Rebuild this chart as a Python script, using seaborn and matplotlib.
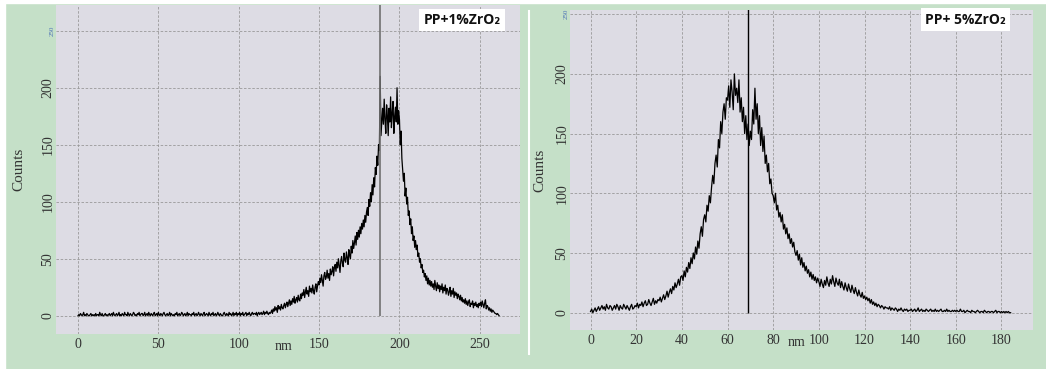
import numpy as np
import pandas as pd
import matplotlib
matplotlib.use("Agg")
import matplotlib.pyplot as plt
from matplotlib.patches import Rectangle
from matplotlib.lines import Line2D
import seaborn as sns

# ---- data (counts per 0.5 nm bin) ----
left_nm = np.arange(0, 262.5, 0.5)
left_counts = [
    0, 1, 0, 2, 1, 0, 1, 3, 0, 1, 0, 2, 1, 0, 0, 1, 2, 0, 1, 0,
    1, 0, 2, 0, 1, 1, 0, 3, 1, 0, 2, 0, 0, 1, 2, 0, 1, 0, 1, 2,
    0, 1, 2, 0, 3, 1, 0, 1, 2, 0, 1, 3, 0, 1, 0, 2, 1, 0, 3, 1,
    1, 0, 3, 1, 0, 2, 1, 0, 1, 3, 2, 0, 1, 0, 2, 1, 3, 0, 1, 2,
    2, 0, 1, 3, 0, 1, 2, 0, 3, 1, 0, 2, 1, 0, 2, 3, 0, 1, 2, 0,
    3, 1, 0, 2, 1, 0, 2, 3, 1, 0, 1, 2, 0, 1, 3, 0, 2, 1, 0, 1,
    0, 2, 1, 3, 0, 1, 2, 0, 1, 3, 2, 0, 1, 2, 0, 1, 3, 0, 2, 1,
    1, 0, 2, 1, 3, 0, 1, 2, 0, 1, 3, 1, 0, 2, 1, 0, 2, 3, 0, 1,
    2, 1, 0, 3, 1, 0, 2, 1, 3, 0, 1, 2, 0, 1, 3, 1, 0, 2, 1, 0,
    0, 2, 3, 1, 0, 2, 1, 0, 3, 1, 2, 0, 1, 3, 0, 2, 1, 3, 0, 2,
    1, 3, 0, 2, 1, 3, 0, 1, 2, 3, 0, 2, 1, 3, 1, 0, 2, 3, 1, 2,
    2, 1, 3, 0, 2, 3, 1, 2, 3, 1, 2, 4, 1, 3, 2, 4, 2, 1, 3, 2,
    3, 5, 2, 6, 4, 8, 5, 7, 3, 9, 6, 8, 5, 10, 7, 6, 9, 11, 7, 10,
    12, 8, 11, 14, 9, 13, 10, 15, 12, 17, 11, 14, 16, 12, 18, 14, 13, 19, 15, 20,
    18, 23, 16, 21, 25, 19, 22, 17, 26, 21, 24, 20, 27, 22, 19, 25, 28, 21, 26, 30,
    27, 33, 29, 36, 31, 26, 35, 38, 32, 34, 40, 33, 37, 31, 41, 36, 39, 43, 35, 42,
    45, 39, 47, 42, 50, 44, 38, 48, 52, 46, 43, 55, 49, 47, 56, 51, 45, 58, 53, 50,
    61, 55, 66, 59, 64, 70, 62, 73, 67, 75, 69, 78, 72, 81, 76, 84, 78, 88, 82, 91,
    95, 88, 102, 96, 108, 100, 115, 106, 121, 113, 130, 124, 140, 132, 150, 145, 210, 158, 170, 182,
    168, 190, 172, 160, 185, 175, 158, 182, 170, 192, 165, 178, 188, 160, 175, 183, 170, 200, 168, 180,
    172, 150, 162, 138, 128, 118, 125, 105, 112, 98, 104, 88, 92, 80, 85, 72, 78, 66, 70, 60,
    66, 58, 62, 52, 55, 47, 50, 42, 45, 38, 40, 34, 37, 31, 35, 28, 33, 27, 31, 26,
    30, 25, 28, 23, 31, 26, 22, 29, 24, 27, 21, 26, 23, 28, 20, 25, 22, 27, 19, 24,
    23, 18, 21, 25, 17, 22, 19, 24, 16, 21, 18, 20, 15, 19, 17, 14, 18, 13, 16, 12,
    14, 11, 15, 10, 13, 9, 12, 14, 8, 11, 10, 13, 7, 11, 9, 12, 8, 10, 7, 11,
    9, 12, 8, 13, 10, 7, 11, 14, 6, 9, 8, 5, 7, 4, 6, 3, 5, 4, 3, 2,
    2, 1, 2, 1, 0,
]
left_spike_nm = 188
left_spike_top = 285

right_nm = np.arange(0, 184.5, 0.5)
right_counts = [
    1, 3, 0, 2, 4, 1, 3, 5, 2, 4, 6, 3, 5, 2, 7, 4, 3, 6, 5, 2,
    4, 6, 3, 7, 5, 2, 6, 4, 3, 7, 5, 3, 6, 4, 2, 5, 7, 3, 4, 6,
    5, 8, 4, 7, 6, 9, 5, 8, 10, 6, 7, 11, 8, 6, 9, 12, 7, 10, 8, 11,
    10, 13, 9, 12, 15, 11, 14, 18, 13, 17, 20, 16, 22, 19, 25, 21, 24, 28, 23, 30,
    31, 27, 35, 30, 38, 34, 42, 37, 46, 41, 50, 45, 55, 49, 60, 54, 66, 72, 64, 78,
    82, 76, 90, 85, 98, 92, 105, 115, 108, 125, 132, 122, 145, 138, 160, 150, 168, 175, 162, 180,
    178, 190, 172, 195, 185, 170, 200, 182, 188, 176, 195, 168, 180, 160, 172, 150, 165, 145, 158, 140,
    152, 145, 170, 158, 188, 162, 175, 150, 165, 140, 155, 135, 148, 125, 132, 118, 125, 108, 112, 100,
    98, 92, 100, 86, 90, 80, 84, 76, 82, 70, 74, 66, 71, 62, 66, 58, 62, 55, 59, 51,
    48, 52, 44, 49, 40, 46, 38, 42, 35, 39, 33, 36, 30, 34, 28, 32, 27, 30, 25, 29,
    26, 22, 28, 24, 21, 27, 23, 30, 25, 22, 28, 24, 31, 26, 22, 29, 25, 23, 28, 21,
    26, 22, 19, 25, 21, 18, 24, 20, 17, 23, 19, 16, 21, 17, 14, 19, 15, 13, 17, 12,
    14, 11, 13, 10, 12, 8, 11, 7, 9, 6, 8, 5, 7, 6, 4, 6, 5, 3, 5, 4,
    4, 3, 5, 2, 4, 3, 2, 4, 3, 1, 3, 2, 4, 2, 1, 3, 2, 3, 1, 2,
    2, 3, 1, 2, 3, 1, 2, 4, 1, 2, 3, 1, 2, 1, 3, 2, 1, 2, 3, 1,
    2, 1, 3, 1, 2, 1, 2, 3, 1, 1, 2, 1, 3, 1, 2, 1, 1, 2, 1, 2,
    1, 2, 1, 1, 3, 1, 1, 2, 0, 1, 2, 1, 1, 0, 2, 1, 1, 0, 1, 2,
    1, 0, 1, 1, 0, 2, 1, 0, 1, 1, 0, 1, 1, 0, 1, 2, 0, 1, 1, 0,
    1, 0, 1, 0, 1, 0, 1, 0, 0,
]
right_spike_nm = 69
right_spike_top = 265

left_xticks = [0, 50, 100, 150, 200, 250]
right_xticks = [0, 20, 40, 60, 80, 100, 120, 140, 160, 180]
yticks = [0, 50, 100, 150, 200, 250]
labels = ["PP+1%ZrO\u2082", "PP+ 5%ZrO\u2082"]

GREEN = "#c5e0c8"
PLOT_BG = "#dddce4"
W, H = 1046, 369


def px_axes(fig, left, top, right, bottom):
    return fig.add_axes([left / W, 1 - bottom / H, (right - left) / W, (bottom - top) / H])


def style_panel(ax, xticks, xlim, ylim, label, box_xy, ylabel_x, height_px):
    ax.set_facecolor(PLOT_BG)
    ax.set_xlim(*xlim)
    ax.set_ylim(*ylim)
    for s in ax.spines.values():
        s.set_visible(False)
    ax.set_xticks(xticks)
    ax.set_yticks(yticks)
    ax.grid(True, color="#999999", linestyle=(0, (3, 2)), linewidth=0.6)
    ax.tick_params(axis="x", length=0, labelsize=10, labelcolor="#333333", pad=3)
    ax.tick_params(axis="y", length=0, labelsize=10, labelcolor="#333333", pad=1)
    for t in ax.get_xticklabels() + ax.get_yticklabels():
        t.set_fontfamily("Liberation Serif")
    for t in ax.get_yticklabels():
        t.set_rotation(90)
        t.set_va("center")
    top_lbl = ax.get_yticklabels()[-1]
    top_lbl.set_color("#4a6fb5")
    top_lbl.set_fontsize(5)
    ax.set_ylabel("Counts", family="Liberation Serif", fontsize=11, color="#333333")
    ax.yaxis.set_label_coords(ylabel_x, 0.5)
    ax.yaxis.label.set_va("center")
    ax.set_xlabel("nm", family="Liberation Serif", fontsize=10, color="#333333")
    ax.xaxis.set_label_coords(0.49, -12 / height_px)
    ax.xaxis.label.set_va("center")
    ax.text(box_xy[0], box_xy[1], label, transform=ax.transAxes, ha="center", va="center",
            fontsize=10, fontweight="bold", family=["Open Sans", "DejaVu Sans"], color="#111111",
            bbox=dict(facecolor="white", edgecolor="none", pad=3))


fig = plt.figure(figsize=(W / 100, H / 100), dpi=100, facecolor=GREEN)
fig.add_artist(Rectangle((0, 0), 5 / W, 1, transform=fig.transFigure, color="white", zorder=0))
fig.add_artist(Rectangle((0, 1 - 3 / H), 1, 3 / H, transform=fig.transFigure, color="white", zorder=0))
fig.add_artist(Line2D([529 / W, 529 / W], [0.04, 0.97], transform=fig.transFigure,
                      color="white", linewidth=1.5))

df_left = pd.DataFrame({"nm": left_nm, "counts": left_counts})
df_right = pd.DataFrame({"nm": right_nm, "counts": right_counts})

ax1 = px_axes(fig, 56, 5, 520, 334)
sns.lineplot(data=df_left, x="nm", y="counts", ax=ax1, color="black", linewidth=0.9, estimator=None)
ax1.vlines(left_spike_nm, 0, left_spike_top, color="#707070", linewidth=1.2)
style_panel(ax1, left_xticks, (-13.7, 275), (-16, 272.6), labels[0], (0.875, 0.955),
            -37 / 464, 329)

ax2 = px_axes(fig, 570, 10, 1033, 330)
sns.lineplot(data=df_right, x="nm", y="counts", ax=ax2, color="black", linewidth=0.9, estimator=None)
ax2.vlines(right_spike_nm, 0, right_spike_top, color="black", linewidth=1.0)
style_panel(ax2, right_xticks, (-9, 193.8), (-14.5, 253.5), labels[1], (0.855, 0.97),
            -30 / 463, 320)

fig.savefig("out.png", dpi=100, facecolor=GREEN)
